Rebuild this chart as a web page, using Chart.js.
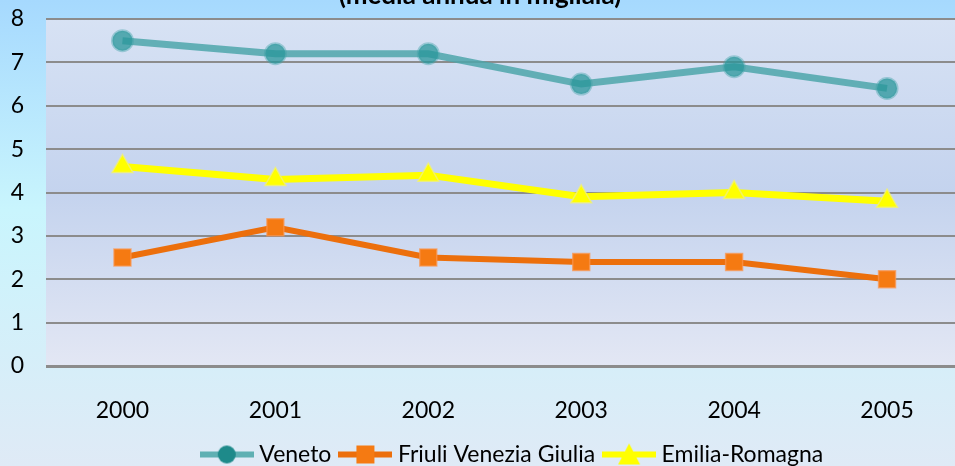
<!DOCTYPE html>
<html>
<head>
<meta charset="utf-8">
<script src="https://cdn.jsdelivr.net/npm/chart.js@4.4.1/dist/chart.umd.min.js"></script>
<style>
    html, body { margin: 0; padding: 0; overflow: hidden; width: 955px; height: 466px; }
    #chart { display: block; }
</style>
</head>
<body>
<canvas id="chart" width="977" height="466" style="width:977px;height:466px"></canvas>
<script>
// data
const years = ['2000', '2001', '2002', '2003', '2004', '2005'];
const veneto = [7.5, 7.2, 7.2, 6.5, 6.9, 6.4];
const friuli = [2.5, 3.2, 2.5, 2.4, 2.4, 2.0];
const emilia = [4.6, 4.3, 4.4, 3.9, 4.0, 3.8];
const seriesNames = ['Veneto', 'Friuli Venezia Giulia', 'Emilia-Romagna'];
const titleText = '(media annua in migliaia)';

const FONT = 'Lato, "Noto Sans", sans-serif';

// small legend icons: line with marker in the middle, like Excel
function makeIcon(lineColor, markerColor, shape) {
    const c = document.createElement('canvas');
    c.width = 54;
    c.height = 24;
    const ctx = c.getContext('2d');
    ctx.strokeStyle = lineColor;
    ctx.lineWidth = 6;
    ctx.beginPath();
    ctx.moveTo(0, 12);
    ctx.lineTo(54, 12);
    ctx.stroke();
    ctx.fillStyle = markerColor;
    ctx.beginPath();
    if (shape === 'circle') {
        ctx.arc(27, 12, 9, 0, Math.PI * 2);
    } else if (shape === 'rect') {
        ctx.rect(18, 3, 18, 18);
    } else {
        ctx.moveTo(27, 1);
        ctx.lineTo(38, 22);
        ctx.lineTo(16, 22);
        ctx.closePath();
    }
    ctx.fill();
    return c;
}

const legendIcons = [
    makeIcon('#5fb0b3', '#1e8a8a', 'circle'),
    makeIcon('#ec6f0c', '#f57a12', 'rect'),
    makeIcon('#ffff00', '#ffff00', 'triangle')
];

const backgroundPlugin = {
    id: 'backgrounds',
    beforeDraw(chart) {
        const ctx = chart.ctx;
        const area = chart.chartArea;
        ctx.save();
        const outer = ctx.createLinearGradient(0, 0, 0, chart.height);
        outer.addColorStop(0, '#a6d9fe');
        outer.addColorStop(0.45, '#c9f5fd');
        outer.addColorStop(1, '#dfeaf6');
        ctx.fillStyle = outer;
        ctx.fillRect(0, 0, chart.width, chart.height);

        const inner = ctx.createLinearGradient(0, area.top, 0, area.bottom);
        inner.addColorStop(0, '#d7e2f4');
        inner.addColorStop(0.5, '#c4d3ee');
        inner.addColorStop(1, '#e3e7f4');
        ctx.fillStyle = inner;
        ctx.fillRect(area.left, area.top, area.right - area.left, area.bottom - area.top);

        // title, cut at the top edge as in the picture
        ctx.fillStyle = '#000';
        ctx.font = 'bold 26px ' + FONT;
        ctx.textAlign = 'center';
        ctx.textBaseline = 'alphabetic';
        ctx.fillText(titleText, 480, 4);
        ctx.restore();
    }
};

// the legend in the reference sits a bit right and low
const legendShift = {
    id: 'legendShift',
    afterLayout(chart) {
        const lg = chart.legend;
        lg.left += 26;
        lg.right += 26;
        lg.top += 10;
        lg.bottom += 10;
    }
};

new Chart(document.getElementById('chart'), {
    type: 'line',
    data: {
        labels: years,
        datasets: [
            {
                label: seriesNames[0],
                data: veneto,
                borderColor: 'rgba(78, 166, 170, 0.85)',
                borderWidth: 7,
                pointStyle: 'circle',
                pointRadius: 10,
                pointBackgroundColor: 'rgba(40, 150, 153, 0.75)',
                pointBorderColor: 'rgba(60, 160, 165, 0.4)',
                pointBorderWidth: 3,
                tension: 0
            },
            {
                label: seriesNames[1],
                data: friuli,
                borderColor: '#ec6f0c',
                borderWidth: 6,
                pointStyle: 'rect',
                pointRadius: 12,
                pointBackgroundColor: '#f57a12',
                pointBorderColor: 'rgba(250, 150, 80, 0.7)',
                pointBorderWidth: 1.5,
                tension: 0
            },
            {
                label: seriesNames[2],
                data: emilia,
                borderColor: '#ffff00',
                borderWidth: 7,
                pointStyle: 'triangle',
                pointRadius: 12,
                pointBackgroundColor: '#ffff00',
                pointBorderColor: 'rgba(240, 240, 120, 0.8)',
                pointBorderWidth: 1.5,
                tension: 0
            }
        ]
    },
    options: {
        responsive: false,
        animation: false,
        layout: {
            padding: { top: 19, right: 0, bottom: 0, left: 0 }
        },
        scales: {
            x: {
                offset: true,
                grid: { display: false, drawTicks: false },
                border: { display: false },
                ticks: {
                    color: '#000',
                    padding: 31,
                    font: { family: FONT, size: 23 }
                },
                afterFit(axis) {
                    axis.height = 54;
                    axis.paddingLeft = 0;
                    axis.paddingRight = 0;
                }
            },
            y: {
                min: 0,
                max: 8,
                grid: {
                    color: '#8c8c8c',
                    lineWidth: (ctx) => ctx.tick && ctx.tick.value === 0 ? 3 : 2,
                    drawTicks: false
                },
                border: { display: false },
                ticks: {
                    stepSize: 1,
                    color: '#000',
                    padding: 22,
                    font: { family: FONT, size: 23 }
                },
                afterFit(axis) {
                    axis.width = 46;
                    axis.paddingTop = 0;
                    axis.paddingBottom = 0;
                }
            }
        },
        plugins: {
            title: { display: false },
            tooltip: { enabled: false },
            legend: {
                display: true,
                position: 'bottom',
                labels: {
                    usePointStyle: true,
                    pointStyleWidth: 42,
                    padding: 13,
                    color: '#000',
                    font: { family: FONT, size: 23 },
                    generateLabels(chart) {
                        const items = Chart.defaults.plugins.legend.labels.generateLabels(chart);
                        items.forEach((item, i) => {
                            item.pointStyle = legendIcons[i];
                        });
                        return items;
                    }
                }
            }
        }
    },
    plugins: [backgroundPlugin, legendShift]
});
</script>
</body>
</html>
